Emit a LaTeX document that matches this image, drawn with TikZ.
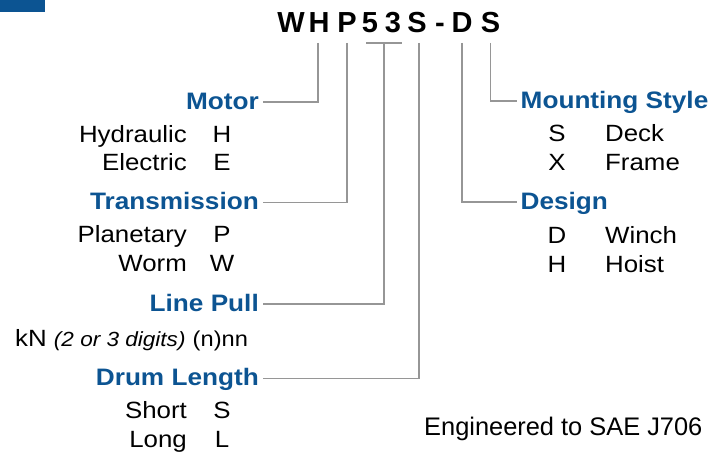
\documentclass[tikz,border=0pt]{standalone}
\usepackage{fontspec}
\usetikzlibrary{calc}
\setmainfont[FakeStretch=1.1]{Liberation Sans}
\newfontfamily\plainfont{Liberation Sans}
\definecolor{hdblue}{RGB}{12,84,146}
\definecolor{conngray}{RGB}{150,150,150}
\tikzset{
  body/.style={inner sep=0pt, font=\fontsize{23.5}{28}\selectfont, text=black},
  heading/.style={inner xsep=3.5pt, inner ysep=0pt, text height=15pt, text depth=0pt,
    font=\fontsize{23.8}{28}\selectfont\bfseries, text=hdblue},
  titlechar/.style={inner sep=0pt, anchor=base, font=\plainfont\fontsize{29}{30}\selectfont\bfseries},
  conn/.style={draw=conngray, line width=1.7pt}
}
\begin{document}
\begin{tikzpicture}[x=1pt,y=-1pt]
\useasboundingbox (0,0) rectangle (713,454);
\fill[hdblue] (0,0) rectangle (45,12);
% title characters
\node[titlechar] (cW) at (291,33) {W};
\node[titlechar] (cH) at (319,33) {H};
\node[titlechar] (cP) at (347,33) {P};
\node[titlechar] (c5) at (370,33) {5};
\node[titlechar] (c3) at (393,33) {3};
\node[titlechar] (cS) at (417,33) {S};
\node[titlechar] (cdash) at (440,33) {-};
\node[titlechar] (cD) at (462,33) {D};
\node[titlechar] (cS2) at (490.5,33) {S};
% headings
\node[heading, anchor=base east] (motor) at (262.5,109.3) {Motor};
\node[heading, anchor=base east] (trans) at (262.5,210) {Transmission};
\node[heading, anchor=base east] (linepull) at (262.5,311.7) {Line Pull};
\node[heading, anchor=base east] (drum) at (262.5,386) {Drum Length};
\node[heading, anchor=base west] (mount) at (517,108.3) {Mounting Style};
\node[heading, anchor=base west] (design) at (517,209.3) {Design};
% left items
\node[body, anchor=base east] (hyd) at (187,142.7) {Hydraulic};
\node[body, anchor=base] (hydc) at (222,142.7) {H};
\node[body, anchor=base east] (ele) at (187,170.7) {Electric};
\node[body, anchor=base] (elec) at (222,170.7) {E};
\node[body, anchor=base east] (pla) at (187,243) {Planetary};
\node[body, anchor=base] (plac) at (222,243) {P};
\node[body, anchor=base east] (wor) at (187,271.7) {Worm};
\node[body, anchor=base] (worc) at (222,271.7) {W};
\node[body, anchor=base west] (kn) at (15,346.7) {kN {\fontsize{20.5}{24}\selectfont\itshape (2 or 3 digits)} {\fontsize{21.5}{24}\selectfont(n)nn}};
\node[body, anchor=base east] (sho) at (187,418.3) {Short};
\node[body, anchor=base] (shoc) at (222,418.3) {S};
\node[body, anchor=base east] (lon) at (187,447.3) {Long};
\node[body, anchor=base] (lonc) at (222,447.3) {L};
% right items
\node[body, anchor=base] (deckc) at (557,141.7) {S};
\node[body, anchor=base west] (deck) at (605,141.7) {Deck};
\node[body, anchor=base] (framec) at (557,170.7) {X};
\node[body, anchor=base west] (frame) at (605,170.7) {Frame};
\node[body, anchor=base] (winchc) at (557,243.3) {D};
\node[body, anchor=base west] (winch) at (605,243.3) {Winch};
\node[body, anchor=base] (hoistc) at (557,272.3) {H};
\node[body, anchor=base west] (hoist) at (605,272.3) {Hoist};
% note
\node[inner sep=0pt, anchor=base west, font=\plainfont\fontsize{25.4}{28}\selectfont] (note) at (424,436) {Engineered to SAE J706};
% connectors
\coordinate (b53) at ([xshift=2.5pt,yshift=-10pt]$(c5.base)!0.5!(c3.base)$);
\draw[conn] ([xshift=-18pt]b53) -- ([xshift=18pt]b53);
\draw[conn] ([yshift=-10pt,xshift=-1pt]cH.base) |- (motor.east);
\draw[conn] ([yshift=-10pt]cP.base) |- (trans.east);
\draw[conn] (b53) |- (linepull.east);
\draw[conn] ([yshift=-10pt,xshift=2pt]cS.base) |- (drum.east);
\draw[conn] ([yshift=-10pt]cD.base) |- (design.west);
\draw[conn] ([yshift=-10pt]cS2.base) |- (mount.west);
\end{tikzpicture}
\end{document}
